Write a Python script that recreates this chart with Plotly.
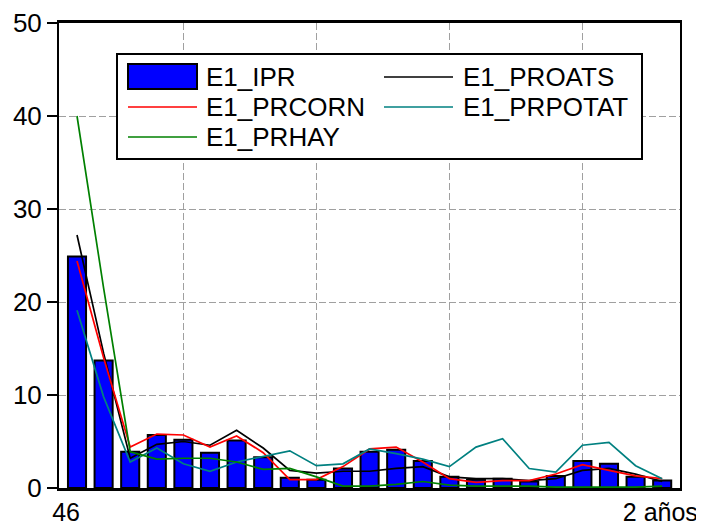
import plotly.graph_objects as go

# ---- data ----
idx = list(range(23))
e1_ipr = [24.9, 13.7, 3.9, 5.7, 5.2, 3.8, 5.1, 3.3, 1.1, 0.9, 2.1, 3.9, 4.1, 2.9,
          1.2, 0.9, 1.0, 0.7, 1.3, 2.9, 2.6, 1.2, 0.8]
e1_proats = [27.2, 14.5, 3.2, 4.7, 5.0, 4.6, 6.2, 4.3, 1.9, 1.6, 1.8, 1.8, 2.1, 2.3,
             1.2, 1.0, 1.0, 0.8, 1.0, 1.9, 2.1, 1.5, 0.7]
e1_prcorn = [24.4, 14.0, 4.4, 5.8, 5.7, 4.4, 5.6, 3.8, 0.9, 0.9, 2.3, 4.2, 4.4, 2.8,
             1.0, 0.6, 0.8, 0.8, 1.5, 2.5, 1.9, 1.3, 1.0]
e1_prpotat = [19.1, 9.8, 2.8, 4.3, 2.6, 1.8, 2.8, 3.4, 4.0, 2.4, 2.6, 4.2, 3.7, 3.1,
              2.3, 4.4, 5.3, 2.1, 1.7, 4.6, 4.9, 2.4, 1.0]
e1_prhay = [40.0, 21.5, 3.9, 3.1, 3.2, 3.2, 2.8, 2.0, 2.1, 1.2, 0.2, 0.2, 0.4, 0.7,
            0.3, 0.2, 0.2, 0.2, 0.1, 0.1, 0.1, 0.1, 0.2]
x_tickvals = [-0.41, 21.93]
x_ticktext = ["46", "2 años"]
y_ticks = [0, 10, 20, 30, 40, 50]

FONT = "Arial, Liberation Sans, Helvetica, sans-serif"
FS = 26
FSX = 25
# page body has an 8px margin, so the figure is offset by (8, 8) in the window
OFF = 8
W, H = 704 - OFF, 531 - OFF
# plot area in window pixels: x 59..680, y 23..488
PX0, PX1, PY0, PY1 = 59, 680, 23, 488
L, T = PX0 - OFF, PY0 - OFF
R, B = W - (PX1 - OFF), H - (PY1 - OFF)


def px(xp):
    return (xp - PX0) / (PX1 - PX0)


def py(yp):
    return (PY1 - yp) / (PY1 - PY0)


fig = go.Figure()
fig.add_bar(x=idx, y=e1_ipr, width=0.68, name="E1_IPR",
            marker=dict(color="#0000FF", line=dict(color="black", width=2)),
            showlegend=False)
series = [("E1_PROATS", e1_proats, "#000000"),
          ("E1_PRCORN", e1_prcorn, "#FF0000"),
          ("E1_PRPOTAT", e1_prpotat, "#008080"),
          ("E1_PRHAY", e1_prhay, "#008000")]
for name, vals, col in series:
    fig.add_scatter(x=idx, y=vals, mode="lines", name=name,
                    line=dict(color=col, width=1.7), showlegend=False)

# ---- custom legend (layout decoration) ----
shapes = []
annotations = []
shapes.append(dict(type="rect", xref="paper", yref="paper",
                   x0=px(117), x1=px(642), y0=py(159), y1=py(54),
                   line=dict(color="black", width=2), fillcolor="white", layer="above"))
shapes.append(dict(type="rect", xref="paper", yref="paper",
                   x0=px(128), x1=px(197), y0=py(89), y1=py(64),
                   line=dict(color="black", width=2), fillcolor="#0000FF", layer="above"))
legend_lines = [(128, 197, 107, "#FF0000"), (128, 197, 137, "#008000"),
                (384, 453, 77, "#000000"), (384, 453, 107, "#008080")]
for x0, x1, yy, col in legend_lines:
    shapes.append(dict(type="line", xref="paper", yref="paper",
                       x0=px(x0), x1=px(x1), y0=py(yy), y1=py(yy),
                       line=dict(color=col, width=1.7), layer="above"))
legend_texts = [(204, 77, "E1_IPR"), (204, 107, "E1_PRCORN"), (204, 137, "E1_PRHAY"),
                (461, 77, "E1_PROATS"), (461, 107, "E1_PRPOTAT")]
for xx, yy, txt in legend_texts:
    annotations.append(dict(xref="paper", yref="paper", x=px(xx), y=py(yy),
                            text=txt, showarrow=False, xanchor="left", yanchor="middle",
                            font=dict(family=FONT, size=FS, color="black")))

fig.update_layout(
    width=W, height=H,
    margin=dict(l=L, r=R, t=T, b=B, pad=0, autoexpand=False),
    paper_bgcolor="white", plot_bgcolor="white",
    font=dict(family=FONT, size=FS, color="black"),
    bargap=0.3,
    shapes=shapes, annotations=annotations,
    xaxis=dict(range=[-0.677, 22.67], tickmode="array", tickvals=x_tickvals,
               ticktext=x_ticktext, ticks="", showgrid=False, zeroline=False,
               automargin=False,
               showline=True, linecolor="black", linewidth=3, mirror=True,
               tickfont=dict(family=FONT, size=FSX, color="black"),
               minor=dict(tickmode="array", tickvals=[4, 9, 14, 19], showgrid=True,
                          gridcolor="#a0a0a0", griddash="7px,3px", gridwidth=1, ticks="")),
    yaxis=dict(range=[0, 50], tickmode="array", tickvals=y_ticks,
               ticks="outside", ticklen=10, tickwidth=2, tickcolor="black",
               automargin=False,
               showgrid=True, gridcolor="#a0a0a0", griddash="7px,3px", gridwidth=1,
               zeroline=False, showline=True, linecolor="black", linewidth=2, mirror=True,
               tickfont=dict(family=FONT, size=FS, color="black")),
)

fig.write_html("out.html")
